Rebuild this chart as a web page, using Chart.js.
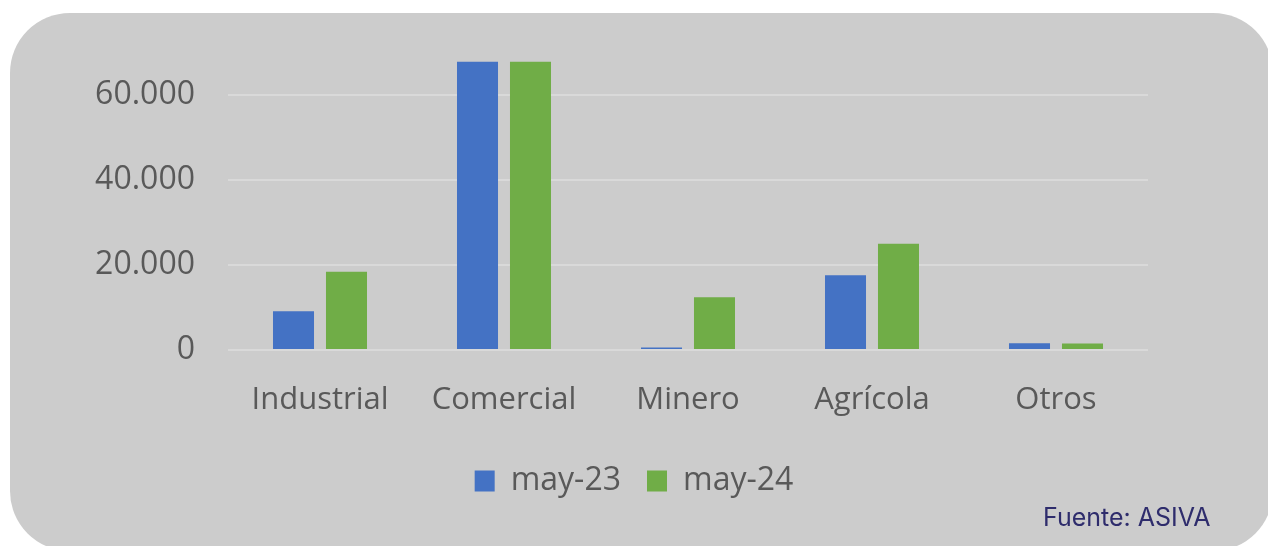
<!DOCTYPE html>
<html>
<head>
<meta charset="utf-8">
<script src="https://cdn.jsdelivr.net/npm/chart.js@4.4.1/dist/chart.umd.min.js"></script>
<style>
  html, body { margin: 0; padding: 0; background: #ffffff; }
  #wrap { position: relative; width: 1268px; height: 546px; overflow: hidden; }
  #box { position: absolute; left: 10px; top: 13px; width: 1263px; height: 538px; background: #cccccc; border-radius: 60px; }
  #chart { position: absolute; left: 0; top: 0; }
  #fuente { position: absolute; left: 1043px; top: 502px; font-family: Inter, 'Open Sans', sans-serif; font-size: 25px; color: #2e2c6c; }
</style>
</head>
<body>
<div id="wrap">
  <div id="box"></div>
  <canvas id="chart" width="1268" height="546"></canvas>
  <div id="fuente">Fuente: ASIVA</div>
</div>
<script>
var categories = ['Industrial', 'Comercial', 'Minero', 'Agrícola', 'Otros'];
var may23 = [9100, 67800, 600, 17600, 1600];
var may24 = [18400, 67800, 12400, 25000, 1550];
var tickValues = [0, 20000, 40000, 60000];

var textColor = '#595959';
var gridColor = '#d9d9d9';

var chart = new Chart(document.getElementById('chart').getContext('2d'), {
    type: 'bar',
    data: {
        labels: categories,
        datasets: [{
            label: 'may-23',
            data: may23,
            backgroundColor: '#4472c4',
            borderWidth: 0,
            barPercentage: 0.774,
            categoryPercentage: 0.576
        }, {
            label: 'may-24',
            data: may24,
            backgroundColor: '#70ad47',
            borderWidth: 0,
            barPercentage: 0.774,
            categoryPercentage: 0.576
        }]
    },
    options: {
        responsive: false,
        animation: false,
        layout: {
            padding: { left: 0, right: 0, top: 10, bottom: 39 }
        },
        plugins: {
            tooltip: { enabled: false },
            legend: {
                position: 'bottom',
                labels: {
                    color: textColor,
                    font: { family: "'Open Sans', sans-serif", size: 32 },
                    boxWidth: 20,
                    boxHeight: 21,
                    padding: 26
                }
            }
        },
        scales: {
            x: {
                grid: { display: false },
                border: { display: false },
                ticks: {
                    color: textColor,
                    font: { family: "'Open Sans', sans-serif", size: 31 },
                    padding: 24
                },
                afterFit: function (scale) { scale.height = 89; }
            },
            y: {
                min: 0,
                max: 80000,
                grid: { color: gridColor, lineWidth: 2, drawTicks: false },
                border: { display: false },
                ticks: {
                    color: textColor,
                    font: { family: "'Open Sans', sans-serif", size: 32 },
                    padding: 33,
                    callback: function (v) { return v.toLocaleString('de-DE'); }
                },
                afterBuildTicks: function (scale) {
                    scale.ticks = tickValues.map(function (v) { return { value: v }; });
                },
                afterFit: function (scale) {
                    scale.width = 228;
                    scale.paddingTop = 0;
                    scale.paddingBottom = 0;
                }
            },
            // empty right margin so the legend centres on the whole panel
            yRight: {
                position: 'right',
                grid: { display: false },
                border: { display: false },
                ticks: { display: false },
                afterFit: function (scale) {
                    scale.width = 120;
                    scale.paddingTop = 0;
                    scale.paddingBottom = 0;
                }
            }
        }
    }
});
</script>
</body>
</html>
